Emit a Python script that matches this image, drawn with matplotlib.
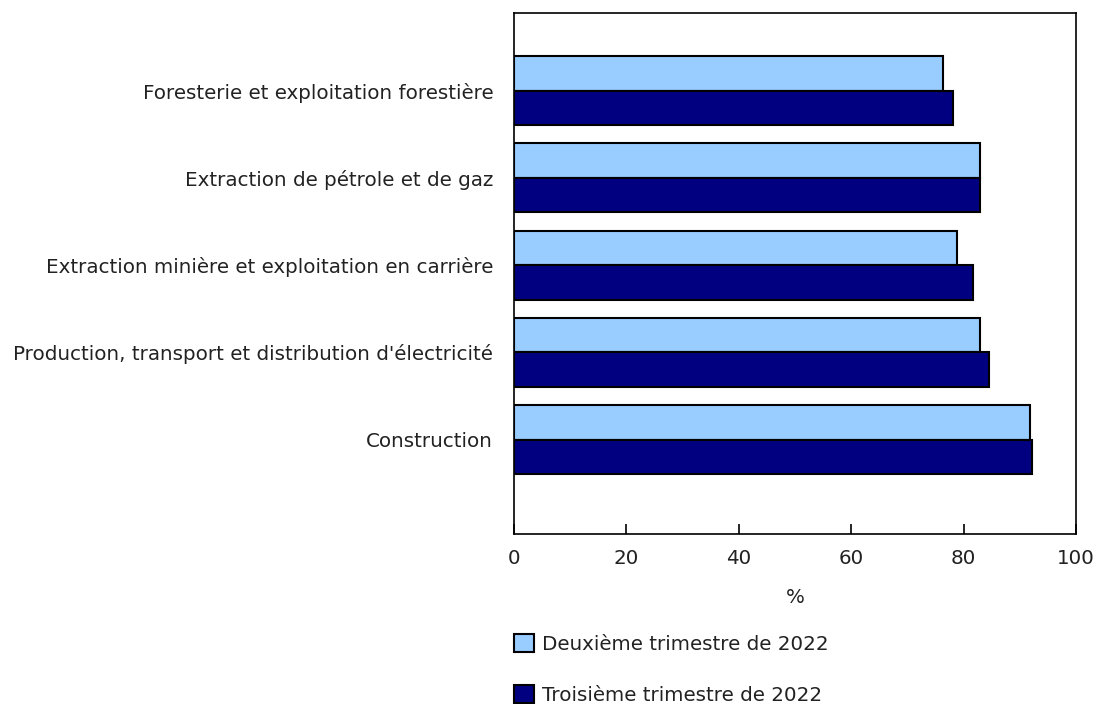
import matplotlib.pyplot as plt
import numpy as np

plt.rcParams['font.family'] = ['DejaVu Sans']

categories = [
    "Foresterie et exploitation forestière",
    "Extraction de pétrole et de gaz",
    "Extraction minière et exploitation en carrière",
    "Production, transport et distribution d'électricité",
    "Construction",
]
q2_2022 = [76.4, 82.9, 78.8, 82.9, 91.9]
q3_2022 = [78.2, 82.9, 81.6, 84.6, 92.1]
series_labels = ["Deuxième trimestre de 2022", "Troisième trimestre de 2022"]
x_ticks = [0, 20, 40, 60, 80, 100]

light = "#99ccff"
dark = "#000080"
fs = 14.3

fig = plt.figure(figsize=(10.95, 7.04), dpi=100)
ax = fig.add_axes([514 / 1095, 1 - 534 / 704, (1076 - 514) / 1095, (534 - 13) / 704])

y = np.arange(len(categories))
h = 0.395
b1 = ax.barh(y - h / 2, q2_2022, height=h, color=light, edgecolor="black", linewidth=1.5,
             label=series_labels[0])
b2 = ax.barh(y + h / 2, q3_2022, height=h, color=dark, edgecolor="black", linewidth=1.5,
             label=series_labels[1])

ax.set_xlim(0, 100)
ax.set_ylim(5.08, -0.89)
ax.set_xticks(x_ticks)
ax.set_yticks(y)
ax.set_yticklabels(categories, fontsize=fs, color="#222222")
ax.tick_params(axis="y", length=0, pad=15)
ax.tick_params(axis="x", direction="in", length=7, width=1.2, pad=11, labelsize=fs,
               labelcolor="#222222")
for s in ax.spines.values():
    s.set_linewidth(1.2)
ax.set_xlabel("%", fontsize=fs, labelpad=14, color="#222222")

fig.legend(handles=[b1, b2], labels=series_labels, loc="upper left",
           bbox_to_anchor=(514 / 1095, 1 - 634 / 704), frameon=False, fontsize=fs,
           handlelength=1.0, handleheight=1.0, handletextpad=0.4, labelspacing=1.6,
           borderpad=0, borderaxespad=0, labelcolor="#222222")

fig.savefig("out.png", dpi=100)
